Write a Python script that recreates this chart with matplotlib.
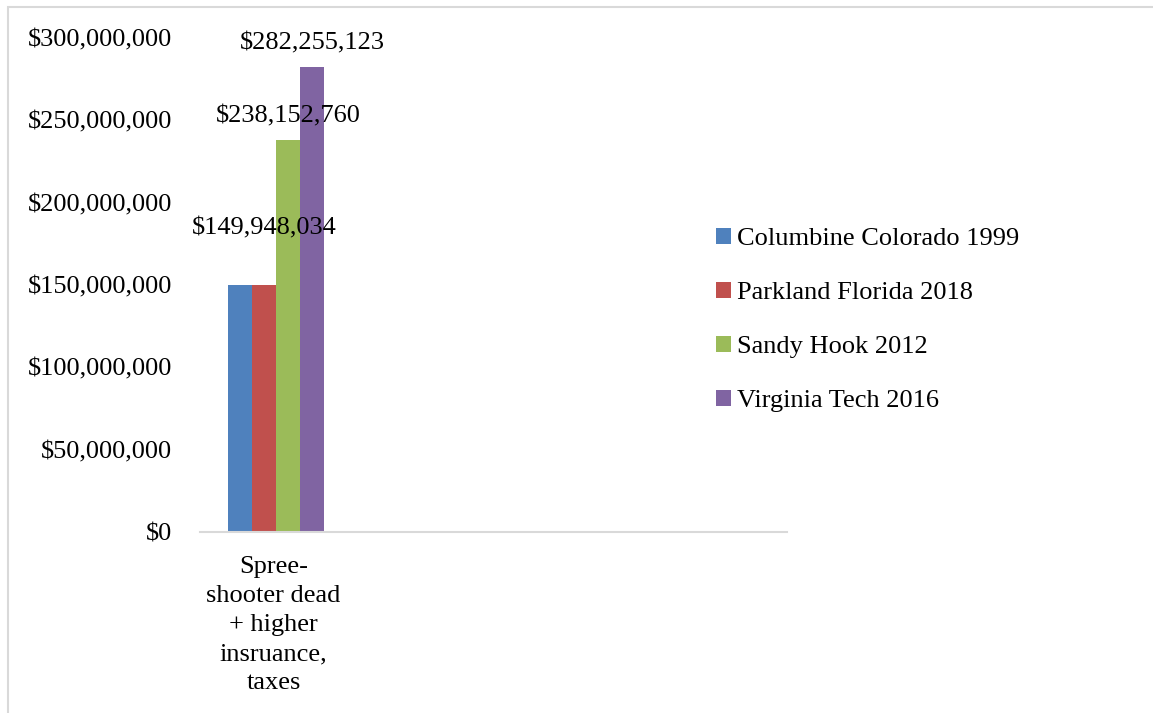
import numpy as np
import matplotlib
matplotlib.use("Agg")
from matplotlib import pyplot as plt
from matplotlib.patches import Rectangle

plt.rcParams['font.family'] = ['Liberation Serif', 'DejaVu Serif']

# data
category = "Spree-\nshooter dead\n+ higher\ninsruance,\ntaxes"
series = ["Columbine Colorado 1999", "Parkland Florida 2018",
          "Sandy Hook 2012", "Virginia Tech 2016"]
values = [149948034, 149948034, 238152760, 282255123]
colors = ["#4F81BD", "#C0504D", "#9BBB59", "#8064A2"]
# which bars carry a visible label, and how far above the bar top (points)
label_shown = [False, True, True, True]
label_lift = [0, 41, 17, 17]

fig = plt.figure(figsize=(11.53, 7.13), dpi=100)
ax = fig.add_axes([0.1735, 0.2539, 0.5091, 0.6928])

# outer chart border (cut off at right and bottom like the screenshot)
fig.patches.append(Rectangle((8 / 1153, -0.05), 1.2, 1 - 7 / 713 + 0.05,
                             transform=fig.transFigure, fill=False,
                             edgecolor="#D9D9D9", linewidth=1.5))

w = 0.1635
n = len(series)
for i, (name, v, c) in enumerate(zip(series, values, colors)):
    x = (i - (n - 1) / 2) * w + 0.017
    ax.bar(x, v, width=w, color=c, label=name)
    if label_shown[i]:
        ax.annotate("${:,}".format(v), xy=(x, v), xytext=(0, label_lift[i]),
                    textcoords="offset points", ha="center", va="center",
                    fontsize=19)

ax.set_xlim(-0.5, 3.5)
ax.set_ylim(0, 300000000)
ax.set_yticks(np.arange(0, 300000001, 50000000))
ax.set_yticklabels(["${:,}".format(t) for t in range(0, 300000001, 50000000)],
                   fontsize=19)
ax.set_xticks([0])
ax.set_xticklabels([category], fontsize=19, linespacing=1.42, va="top")
ax.tick_params(axis="both", length=0)
ax.tick_params(axis="y", pad=20)
ax.tick_params(axis="x", pad=17)

for s in ["top", "right", "left"]:
    ax.spines[s].set_visible(False)
ax.spines["bottom"].set_color("#D9D9D9")
ax.spines["bottom"].set_linewidth(1.5)

leg = ax.legend(loc="center left", bbox_to_anchor=(716 / 1153, 1 - 320 / 713),
                bbox_transform=fig.transFigure, frameon=False,
                borderpad=0, borderaxespad=0,
                fontsize=19, handlelength=0.55, handleheight=0.55,
                handletextpad=0.25, labelspacing=1.2)

fig.savefig("out.png", dpi=100)
